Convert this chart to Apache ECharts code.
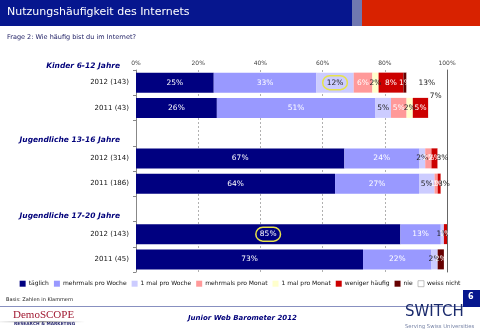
<!DOCTYPE html>
<html>
<head>
<meta charset="utf-8">
<script src="https://cdn.jsdelivr.net/npm/echarts@6/dist/echarts.min.js"></script>
<style>
  html, body { margin: 0; padding: 0; background: #fff; }
  #chart { width: 480px; height: 333px; }
</style>
</head>
<body>
<div id="chart"></div>
<script>
// Row labels, top to bottom; group headings have no bar values
const firstGroup = 'Kinder 6-12 Jahre';
const categories = ['2012 (143)', '2011 (43)', 'Jugendliche 13-16 Jahre', '2012 (314)', '2011 (186)',
                    'Jugendliche 17-20 Jahre', '2012 (143)', '2011 (45)'];
const headings = ['Jugendliche 13-16 Jahre', 'Jugendliche 17-20 Jahre'];

// Share of answers (%) per row
const taeglich        = [25, 26, null, 67, 64, null, 85, 73];
const mehrmalsWoche   = [33, 51, null, 24, 27, null, 13, 22];
const einmalWoche     = [12,  5, null,  2,  5, null,  1,  2];
const mehrmalsMonat   = [ 6,  5, null,  2,  1, null,  0,  0];
const einmalMonat     = [ 2,  2, null,  0,  0, null,  0,  0];
const wenigerHaeufig  = [ 8,  5, null,  2,  1, null,  1,  0];
const nie             = [ 1,  0, null,  0,  0, null,  0,  2];
const weissNicht      = [13,  7, null,  3,  3, null,  0,  0];

const seriesNames = ['täglich', 'mehrmals pro Woche', '1 mal pro Woche', 'mehrmals pro Monat',
                     '1 mal pro Monat', 'weniger häufig', 'nie', 'weiss nicht'];
const seriesValues = [taeglich, mehrmalsWoche, einmalWoche, mehrmalsMonat,
                      einmalMonat, wenigerHaeufig, nie, weissNicht];
const xTicks = [0, 20, 40, 60, 80, 100];

// Styling
const colors = ['#000080', '#9999ff', '#ccccff', '#ff9999', '#ffffcc', '#cc0000', '#660000', '#ffffff'];
const labelColors = ['#fff', '#fff', '#222', '#fff', '#222', '#fff', '#fff', '#222'];
// answers ringed in yellow: [series, row]
const ringed = [[2, 0], [0, 6]];
const FONT = 'DejaVu Sans';

const series = seriesNames.map((name, s) => ({
  name,
  type: 'bar',
  stack: 'total',
  barWidth: 20,
  itemStyle: { color: colors[s], borderWidth: 0 },
  label: {
    show: true,
    color: labelColors[s],
    fontFamily: FONT,
    fontSize: 7.5,
    formatter: p => (p.value ? p.value + '%' : '')
  },
  data: seriesValues[s].map((v, r) => {
    const item = { value: v };
    if (ringed.some(([a, b]) => a === s && b === r)) {
      item.label = { borderColor: '#e6e24a', borderWidth: 1.5, borderRadius: 10, padding: [3, 4] };
    }
    if (s === 7 && r === 1) {
      item.label = { offset: [-2, -12] };
    }
    return item;
  })
}));

const chart = echarts.init(document.getElementById('chart'), null, { renderer: 'canvas' });
chart.setOption({
  animation: false,
  textStyle: { fontFamily: FONT },
  grid: { left: 136, right: 33, top: 70, bottom: 61 },
  xAxis: {
    type: 'value',
    position: 'top',
    min: xTicks[0],
    max: xTicks[xTicks.length - 1],
    interval: 20,
    axisLine: { show: false },
    axisTick: { show: false },
    axisLabel: { formatter: '{value}%', fontSize: 6, color: '#444', margin: 4 },
    splitLine: { show: true, lineStyle: { type: [2, 2], color: '#b0b0b0', width: 1 } }
  },
  yAxis: [{
    type: 'category',
    inverse: true,
    data: categories,
    name: firstGroup,
    nameLocation: 'start',
    nameGap: 0,
    nameTextStyle: {
      fontFamily: FONT, fontSize: 7.5, fontWeight: 'bold', fontStyle: 'italic', color: '#00007a',
      align: 'right', verticalAlign: 'bottom', padding: [0, 16, 0, 0]
    },
    axisLine: { show: true, lineStyle: { color: '#888', width: 1 } },
    axisTick: { show: true, length: 3, lineStyle: { color: '#888' } },
    axisLabel: {
      margin: 7,
      formatter: v => (headings.includes(v) ? '{h|' + v + '}' : '{y|' + v + '}'),
      rich: {
        y: { fontFamily: FONT, fontSize: 7, color: '#111' },
        h: { fontFamily: FONT, fontSize: 7.5, fontWeight: 'bold', fontStyle: 'italic', color: '#00007a',
             padding: [14, 9, 0, 0] }
      }
    }
  }, {
    type: 'category',
    inverse: true,
    position: 'right',
    data: categories,
    axisLine: { show: true, lineStyle: { color: '#666', width: 1 } },
    axisTick: { show: false },
    axisLabel: { show: false }
  }],
  legend: {
    bottom: 41,
    left: 'center',
    itemWidth: 6,
    itemHeight: 6,
    itemGap: 5,
    icon: 'rect',
    textStyle: { fontFamily: FONT, fontSize: 6, color: '#111', padding: [0, 0, 0, -2] },
    data: seriesNames.map((n, i) => ({
      name: n,
      itemStyle: i === 7 ? { color: '#fff', borderColor: '#999', borderWidth: 0.6 } : undefined
    }))
  },
  series,
  graphic: [
    // banner
    { type: 'rect', left: 0, top: 0, shape: { width: 352, height: 26 }, style: { fill: '#06168e' }, silent: true },
    { type: 'rect', left: 352, top: 0, shape: { width: 10, height: 26 }, style: { fill: '#7078b0' }, silent: true },
    { type: 'rect', left: 362, top: 0, shape: { width: 118, height: 26 }, style: { fill: '#d82200' }, silent: true },
    { type: 'text', left: 7, top: 7, style: { text: 'Nutzungshäufigkeit des Internets', fill: '#fff', font: '11px "DejaVu Sans"' } },
    { type: 'text', left: 7, top: 34, style: { text: 'Frage 2: Wie häufig bist du im Internet?', fill: '#1a1a60', font: '6.5px "DejaVu Sans"' } },
    // footer
    { type: 'text', left: 6, top: 297, style: { text: 'Basis: Zahlen in Klammern', fill: '#222', font: '5px "DejaVu Sans"' } },
    { type: 'rect', left: 0, top: 306, shape: { width: 463, height: 1 }, style: { fill: '#8890c0' }, silent: true },
    { type: 'rect', left: 463, top: 290, shape: { width: 17, height: 17 }, style: { fill: '#06168e' }, silent: true },
    { type: 'text', left: 468, top: 293, style: { text: '6', fill: '#fff', font: 'bold 8px "DejaVu Sans"' } },
    { type: 'rect', left: 0, top: 321, shape: { width: 85, height: 1.5 },
      style: { fill: new echarts.graphic.LinearGradient(0, 0, 1, 0, [
        { offset: 0, color: 'rgba(150,150,150,0.1)' }, { offset: 0.5, color: 'rgba(130,130,130,0.8)' },
        { offset: 1, color: 'rgba(150,150,150,0)' }]) }, silent: true },
    { type: 'text', left: 13, top: 310, style: { text: 'DemoSCOPE', fill: '#a01830', font: '11px "Liberation Serif"' } },
    { type: 'text', left: 14, top: 322, style: { text: 'RESEARCH & MARKETING', fill: '#2a2a70', font: 'bold 4.3px "DejaVu Sans"' } },
    { type: 'text', left: 188, top: 315, style: { text: 'Junior Web Barometer 2012', fill: '#00007a', font: 'italic bold 7px "DejaVu Sans"' } },
    { type: 'text', left: 405, top: 305, style: { text: 'SWITCH', fill: '#1a2a6c', font: '15px "DejaVu Sans"' } },
    { type: 'text', left: 405, top: 324, style: { text: 'Serving Swiss Universities', fill: '#7a86a8', font: '5.3px "DejaVu Sans"' } }
  ]
});
</script>
</body>
</html>
